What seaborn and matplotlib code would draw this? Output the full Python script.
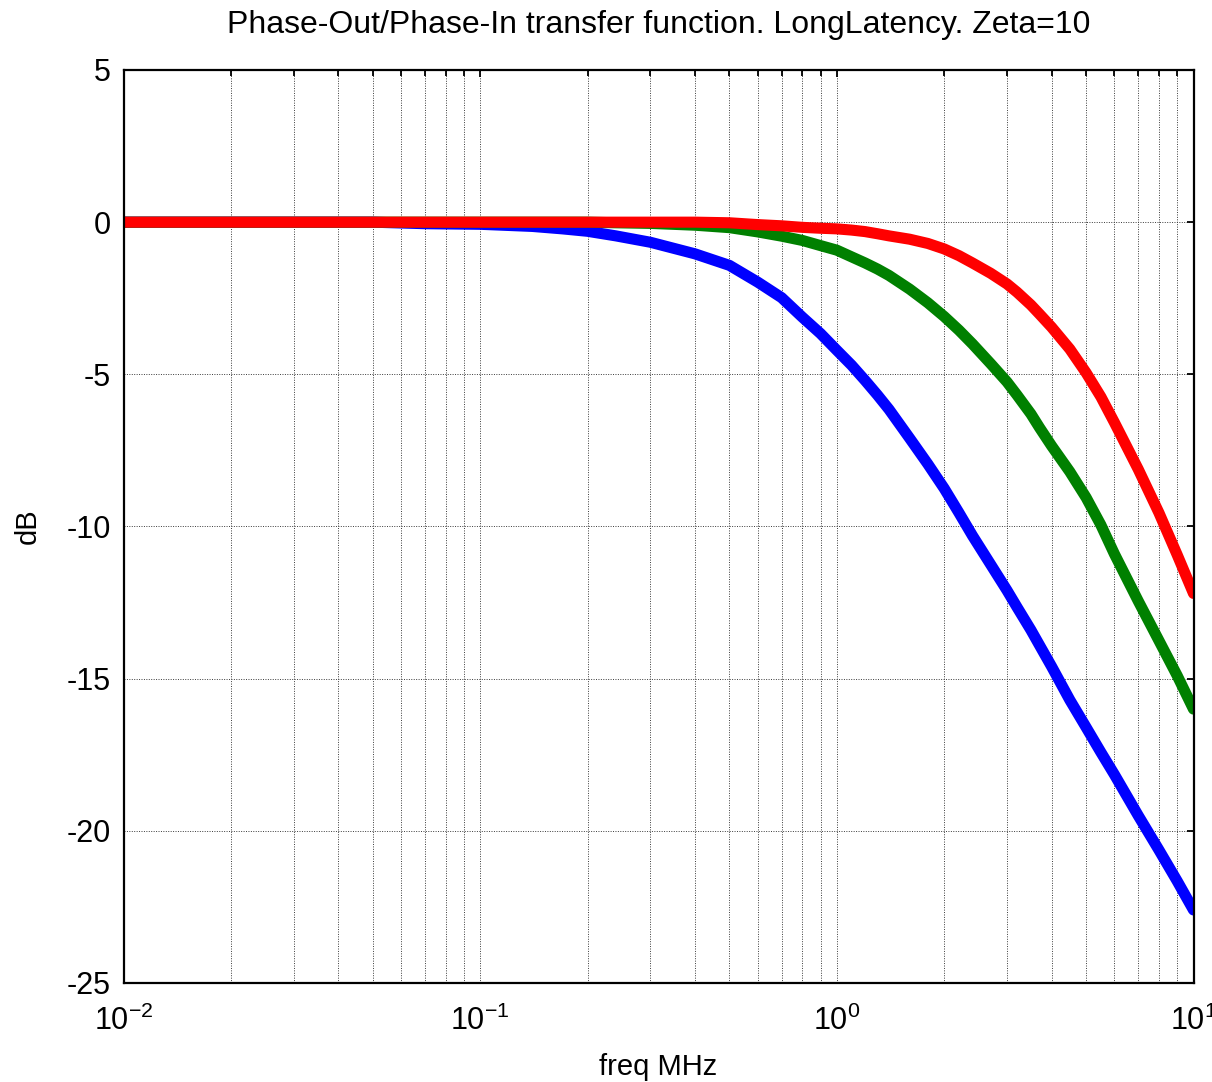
import numpy as np
import pandas as pd
import matplotlib
matplotlib.use("Agg")
import matplotlib.pyplot as plt
import seaborn as sns
from matplotlib.ticker import LogLocator, FixedLocator, NullFormatter

# ---- data ----
freq = [0.01, 0.03, 0.05, 0.07, 0.1, 0.14, 0.17, 0.2, 0.24, 0.3, 0.4, 0.5,
        0.6, 0.7, 0.8, 0.9, 1.0, 1.1, 1.2, 1.3, 1.4, 1.6, 1.8, 2.0, 2.2,
        2.4, 2.7, 3.0, 3.2, 3.5, 3.7, 4.0, 4.5, 5.0, 5.5, 6.0, 7.0, 8.0,
        9.0, 10.0]
db_blue = [0.0, 0.0, 0.0, -0.05, -0.07, -0.14, -0.22, -0.30, -0.45, -0.66,
           -1.04, -1.42, -1.97, -2.48, -3.12, -3.66, -4.21, -4.7, -5.2,
           -5.68, -6.15, -7.1, -7.95, -8.75, -9.55, -10.3, -11.25, -12.1,
           -12.65, -13.4, -13.9, -14.6, -15.7, -16.6, -17.42, -18.15,
           -19.5, -20.63, -21.65, -22.6]
db_green = [0.0, 0.0, 0.0, 0.0, 0.0, 0.0, 0.0, 0.0, -0.02, -0.04, -0.1,
            -0.18, -0.32, -0.46, -0.6, -0.77, -0.92, -1.14, -1.34, -1.54,
            -1.75, -2.2, -2.65, -3.1, -3.55, -4.0, -4.65, -5.25, -5.68,
            -6.3, -6.75, -7.35, -8.2, -9.05, -9.95, -10.9, -12.45, -13.75,
            -14.9, -16.0]
db_red = [0.0, 0.0, 0.0, 0.0, 0.0, 0.0, 0.0, 0.0, 0.0, 0.0, 0.0, -0.02,
          -0.08, -0.12, -0.17, -0.2, -0.22, -0.26, -0.31, -0.38, -0.45,
          -0.56, -0.7, -0.88, -1.1, -1.34, -1.68, -2.03, -2.3, -2.72, -3.02,
          -3.45, -4.17, -4.95, -5.74, -6.58, -8.12, -9.55, -10.93, -12.2]
series_names = ["blue", "green", "red"]
series_colors = ["#0000ff", "#008000", "#ff0000"]

title_text = "Phase-Out/Phase-In transfer function. LongLatency. Zeta=10"
x_label = "freq MHz"
y_label = "dB"
y_ticks = [-25, -20, -15, -10, -5, 0, 5]

# ---- long table for seaborn ----
df = pd.concat([
    pd.DataFrame({"freq": freq, "dB": vals, "series": name})
    for name, vals in zip(series_names, [db_blue, db_green, db_red])
], ignore_index=True)

sns.set_style("white")
plt.rcParams["font.family"] = ["Liberation Sans", "DejaVu Sans"]
plt.rcParams["axes.unicode_minus"] = False
plt.rcParams["mathtext.default"] = "regular"
for key in ["text.color", "axes.labelcolor", "xtick.color", "ytick.color"]:
    plt.rcParams[key] = "black"

W, H = 1212, 1082
fig = plt.figure(figsize=(W / 100, H / 100), dpi=100)
left, right, top, bottom = 123.5, 1193.5, 70, 983
ax = fig.add_axes([left / W, 1 - bottom / H, (right - left) / W, (bottom - top) / H])

sns.lineplot(data=df, x="freq", y="dB", hue="series", hue_order=series_names,
             palette=dict(zip(series_names, series_colors)), linewidth=8,
             legend=False, sort=True, ax=ax, solid_joinstyle="round")

ax.set_xscale("log")
ax.set_xlim(0.01, 10)
ax.set_ylim(-25, 5)
ax.yaxis.set_major_locator(FixedLocator(y_ticks))
ax.xaxis.set_major_locator(LogLocator(base=10, numticks=10))
ax.xaxis.set_minor_locator(LogLocator(base=10, subs=np.arange(2, 10), numticks=100))
ax.xaxis.set_minor_formatter(NullFormatter())

grid_kw = dict(color="#3a3a3a", linestyle=(0, (1, 1.5)), linewidth=0.7)
ax.grid(True, which="both", axis="x", **grid_kw)
ax.grid(True, which="major", axis="y", **grid_kw)
ax.set_axisbelow(True)

for s in ax.spines.values():
    s.set_color("black")
    s.set_linewidth(1.6)

ax.tick_params(which="both", direction="in", top=True, right=True,
               color="black", width=1.3)
ax.tick_params(which="major", length=5, labelsize=22)
ax.tick_params(which="minor", length=4)
ax.tick_params(axis="y", which="major", pad=9)
ax.tick_params(axis="x", which="major", pad=16)

ax.set_title(title_text, fontsize=23, pad=27)
ax.set_xlabel(x_label, fontsize=21, labelpad=12)
ax.set_ylabel(y_label, fontsize=21, labelpad=18)

fig.savefig("out.png", dpi=100, facecolor="white")
